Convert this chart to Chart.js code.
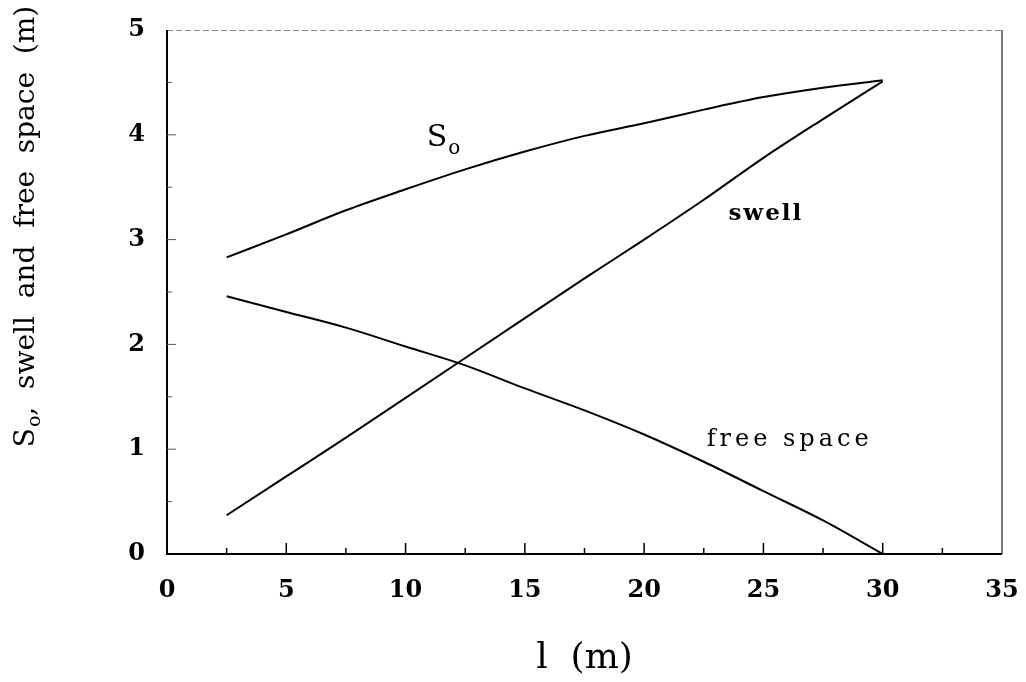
<!DOCTYPE html>
<html>
<head>
<meta charset="utf-8">
<script src="https://cdn.jsdelivr.net/npm/chart.js@4/dist/chart.umd.min.js"></script>
<style>
  html, body { margin: 0; padding: 0; background: #ffffff; }
  #wrap { width: 1026px; height: 682px; }
</style>
</head>
<body>
<div id="wrap"><canvas id="c" width="1026" height="682"></canvas></div>
<script>
// ---- data ----
const lengths = [2.5, 5, 7.5, 10, 12.5, 15, 17.5, 20, 22.5, 25, 27.5, 30];
const soValues = [2.83, 3.05, 3.28, 3.48, 3.67, 3.84, 3.99, 4.11, 4.24, 4.36, 4.45, 4.52];
const swellValues = [0.37, 0.74, 1.11, 1.49, 1.87, 2.25, 2.63, 3.00, 3.38, 3.78, 4.15, 4.51];
const freeSpaceValues = [2.46, 2.31, 2.16, 1.98, 1.80, 1.58, 1.37, 1.14, 0.88, 0.60, 0.32, 0.00];
const xTickValues = [0, 5, 10, 15, 20, 25, 30, 35];
const yTickValues = [0, 1, 2, 3, 4, 5];
const xMinorTicks = [2.5, 7.5, 12.5, 17.5, 22.5, 27.5, 32.5];
const yMinorTicks = [0.5, 1.5, 2.5, 3.5, 4.5];
const xTitle = 'l  (m)';
const yTitleMain = 'S';
const yTitleSub = 'o';
const yTitleRest = ',  swell  and  free  space  (m)';

const SERIF = '"DejaVu Serif", "Liberation Serif", serif';

function pts(ys) { return lengths.map((x, i) => ({ x: x, y: ys[i] })); }

const lineStyle = {
  borderColor: '#000000',
  borderWidth: 2,
  pointRadius: 0,
  fill: false,
  tension: 0,
  cubicInterpolationMode: 'monotone'
};

// labels placed on the curves (data coordinates)
const curveLabels = [
  { main: 'S', sub: 'o', x: 11.57, y: 3.97, size: 30, spacing: 0, weight: 'normal' },
  { main: 'swell', sub: '', x: 25.1, y: 3.24, size: 23, spacing: 2, weight: 'bold' },
  { main: 'free space', sub: '', x: 26.1, y: 1.09, size: 24, spacing: 4, weight: 'normal' }
];

const framePlugin = {
  id: 'frame',
  afterDatasetsDraw(chart) {
    const { ctx, chartArea: a, scales: { x, y } } = chart;
    ctx.save();
    // top border (light dashed)
    ctx.strokeStyle = '#8a8a8a';
    ctx.lineWidth = 1;
    ctx.setLineDash([6, 3]);
    ctx.beginPath(); ctx.moveTo(a.left, a.top + 0.5); ctx.lineTo(a.right, a.top + 0.5); ctx.stroke();
    ctx.setLineDash([]);
    // right border
    ctx.strokeStyle = '#222';
    ctx.lineWidth = 1.2;
    ctx.beginPath(); ctx.moveTo(a.right, a.top); ctx.lineTo(a.right, a.bottom); ctx.stroke();
    // left and bottom axes
    ctx.strokeStyle = '#000';
    ctx.lineWidth = 2;
    ctx.beginPath(); ctx.moveTo(a.left, a.top); ctx.lineTo(a.left, a.bottom); ctx.lineTo(a.right, a.bottom); ctx.stroke();
    // inward ticks
    ctx.lineWidth = 1.5;
    ctx.beginPath();
    xTickValues.forEach(v => { if (v > 0 && v < 35) { const px = x.getPixelForValue(v); ctx.moveTo(px, a.bottom); ctx.lineTo(px, a.bottom - 11); } });
    xMinorTicks.forEach(v => { const px = x.getPixelForValue(v); ctx.moveTo(px, a.bottom); ctx.lineTo(px, a.bottom - 6); });
    ctx.stroke();
    ctx.lineWidth = 1;
    ctx.strokeStyle = '#555';
    ctx.beginPath();
    yTickValues.forEach(v => { if (v > 0 && v < 5) { const py = y.getPixelForValue(v); ctx.moveTo(a.left, py); ctx.lineTo(a.left + 9, py); } });
    yMinorTicks.forEach(v => { const py = y.getPixelForValue(v); ctx.moveTo(a.left, py); ctx.lineTo(a.left + 5, py); });
    ctx.stroke();

    // curve labels
    ctx.fillStyle = '#000';
    ctx.textBaseline = 'middle';
    curveLabels.forEach(l => {
      const cx = x.getPixelForValue(l.x), cy = y.getPixelForValue(l.y);
      const mainFont = l.weight + ' ' + l.size + 'px ' + SERIF;
      const subFont = l.weight + ' ' + Math.round(l.size * 0.68) + 'px ' + SERIF;
      ctx.letterSpacing = l.spacing + 'px';
      ctx.font = mainFont;
      const wMain = ctx.measureText(l.main).width;
      let wSub = 0;
      if (l.sub) { ctx.font = subFont; wSub = ctx.measureText(l.sub).width; }
      const x0 = cx - (wMain + wSub) / 2;
      ctx.font = mainFont;
      ctx.textAlign = 'left';
      ctx.fillText(l.main, x0, cy);
      if (l.sub) {
        ctx.font = subFont;
        ctx.fillText(l.sub, x0 + wMain + 1, cy + l.size * 0.35);
      }
    });
    ctx.letterSpacing = '0px';

    // y-axis title (rotated, with subscript)
    ctx.translate(34, 227);
    ctx.rotate(-Math.PI / 2);
    ctx.textBaseline = 'alphabetic';
    ctx.textAlign = 'left';
    const fs = 28;
    ctx.font = fs + 'px ' + SERIF;
    const w1 = ctx.measureText(yTitleMain).width;
    ctx.font = Math.round(fs * 0.68) + 'px ' + SERIF;
    const w2 = ctx.measureText(yTitleSub).width;
    ctx.font = fs + 'px ' + SERIF;
    const w3 = ctx.measureText(yTitleRest).width;
    let sx = -(w1 + w2 + w3) / 2;
    ctx.fillText(yTitleMain, sx, 0);
    ctx.font = Math.round(fs * 0.68) + 'px ' + SERIF;
    ctx.fillText(yTitleSub, sx + w1 + 1, fs * 0.22);
    ctx.font = fs + 'px ' + SERIF;
    ctx.fillText(yTitleRest, sx + w1 + w2 + 1, 0);
    ctx.restore();
  }
};

function zeroPad(s) { s.paddingLeft = 0; s.paddingRight = 0; s.paddingTop = 0; s.paddingBottom = 0; }

new Chart(document.getElementById('c'), {
  type: 'line',
  data: {
    datasets: [
      Object.assign({ label: 'So', data: pts(soValues) }, lineStyle),
      Object.assign({ label: 'swell', data: pts(swellValues) }, lineStyle),
      Object.assign({ label: 'free space', data: pts(freeSpaceValues) }, lineStyle)
    ]
  },
  options: {
    responsive: false,
    animation: false,
    layout: { padding: { top: 30, right: 24, left: 0, bottom: 0 } },
    plugins: { legend: { display: false }, tooltip: { enabled: false } },
    scales: {
      x: {
        type: 'linear', min: 0, max: 35,
        afterFit(s) { s.height = 128; zeroPad(s); },
        afterBuildTicks(s) { s.ticks = xTickValues.map(v => ({ value: v })); },
        grid: { display: false, drawTicks: false },
        border: { display: false },
        ticks: { color: '#000', font: { family: SERIF, size: 24, weight: 'bold' }, padding: 22, maxRotation: 0 },
        title: { display: true, text: xTitle, color: '#000', font: { family: SERIF, size: 36 }, padding: { top: 0, bottom: 2 } }
      },
      y: {
        type: 'linear', min: 0, max: 5,
        afterFit(s) { s.width = 167; zeroPad(s); },
        afterBuildTicks(s) { s.ticks = yTickValues.map(v => ({ value: v })); },
        grid: { display: false, drawTicks: false },
        border: { display: false },
        ticks: { color: '#000', font: { family: SERIF, size: 24, weight: 'bold' }, padding: 22 }
      }
    }
  },
  plugins: [framePlugin]
});
</script>
</body>
</html>
